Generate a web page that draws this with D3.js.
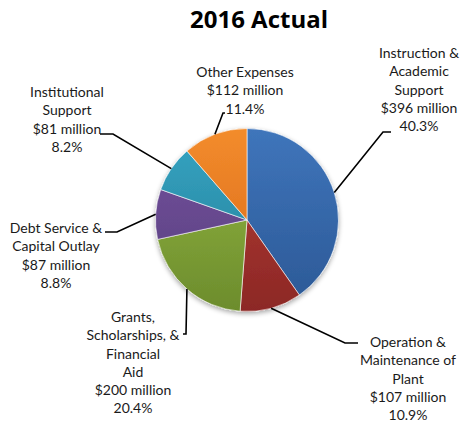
<!DOCTYPE html>
<html>
<head>
<meta charset="utf-8">
<script src="https://cdn.jsdelivr.net/npm/d3@7.9.0/dist/d3.min.js"></script>
<style>
  html, body { margin: 0; padding: 0; background: #fff; }
  svg { display: block; }
  .lbl { font-family: Lato, "Open Sans", sans-serif; font-size: 14px; fill: #1a1a1a; }
  .title { font-family: "Open Sans", Lato, sans-serif; font-weight: 700; font-size: 24px; fill: #000; }
</style>
</head>
<body>
<svg id="chart" width="461" height="423"></svg>
<script>
// ---- data ----
const categories = [
  ['Instruction &', 'Academic', 'Support'],
  ['Operation &', 'Maintenance of', 'Plant'],
  ['Grants,', 'Scholarships, &', 'Financial', 'Aid'],
  ['Debt Service &', 'Capital Outlay'],
  ['Institutional', 'Support'],
  ['Other Expenses']
];
const amounts = ['$396 million', '$107 million', '$200 million', '$87 million', '$81 million', '$112 million'];
const percents = [40.3, 10.9, 20.4, 8.8, 8.2, 11.4];
const colorsTop = ['#3f75bb', '#b63c37', '#95b844', '#75559f', '#36a5c3', '#f38c2c'];
const colorsBottom = ['#2b5895', '#8c2825', '#6c8c2c', '#573b7d', '#227c96', '#d66618'];

// ---- layout (label anchors and leader elbows) ----
const cx = 247, cy = 220, radius = 91.5;
const labelLayout = [
  { x: 419, y: 53, elbow: [383, 132], end: [391, 132] },
  { x: 408, y: 342, elbow: [345, 343], end: [358, 343] },
  { x: 133, y: 317, elbow: [186, 334], end: [183, 334] },
  { x: 56, y: 228, elbow: [117, 232], end: [105, 232] },
  { x: 67, y: 92, elbow: [113, 134], end: [100, 134] },
  { x: 245, y: 72, elbow: [223, 113], end: [225, 113] }
];
const lineStep = 18.3;

const svg = d3.select('#chart');
const defs = svg.append('defs');

// soft shadow under the pie
const shadow = defs.append('filter').attr('id', 'shadow')
  .attr('x', '-20%').attr('y', '-20%').attr('width', '140%').attr('height', '140%');
shadow.append('feGaussianBlur').attr('in', 'SourceAlpha').attr('stdDeviation', 2.5);
shadow.append('feOffset').attr('dx', 0).attr('dy', 2).attr('result', 'off');
shadow.append('feComponentTransfer').append('feFuncA').attr('type', 'linear').attr('slope', 0.35);
const merge = shadow.append('feMerge');
merge.append('feMergeNode');
merge.append('feMergeNode').attr('in', 'SourceGraphic');

// vertical gradient for each slice
percents.forEach((_p, i) => {
  const g = defs.append('linearGradient').attr('id', 'grad' + i)
    .attr('gradientUnits', 'userSpaceOnUse')
    .attr('x1', 0).attr('y1', -radius).attr('x2', 0).attr('y2', radius);
  g.append('stop').attr('offset', '0%').attr('stop-color', colorsTop[i]);
  g.append('stop').attr('offset', '100%').attr('stop-color', colorsBottom[i]);
});

// title
svg.append('text').attr('class', 'title')
  .attr('x', 259).attr('y', 28).attr('text-anchor', 'middle')
  .text('2016 Actual');

// pie
const pie = d3.pie().sort(null).value(d => d);
const arcData = pie(percents);
const arc = d3.arc().innerRadius(0).outerRadius(radius);

const pieG = svg.append('g')
  .attr('transform', `translate(${cx},${cy})`)
  .attr('filter', 'url(#shadow)');

pieG.selectAll('path')
  .data(arcData)
  .enter()
  .append('path')
  .attr('d', arc)
  .attr('fill', (_d, i) => `url(#grad${i})`)
  .attr('stroke', '#fff')
  .attr('stroke-width', 0.6);

// leader lines: start at the slice's outer edge, at its middle angle
const edge = d => {
  const a = (d.startAngle + d.endAngle) / 2;
  return [cx + radius * Math.sin(a), cy - radius * Math.cos(a)];
};

svg.append('g').selectAll('path')
  .data(arcData)
  .enter()
  .append('path')
  .attr('d', (d, i) => d3.line()([edge(d), labelLayout[i].elbow, labelLayout[i].end]))
  .attr('fill', 'none')
  .attr('stroke', '#000')
  .attr('stroke-width', 1.6);

// labels
const labels = svg.append('g').selectAll('text')
  .data(arcData)
  .enter()
  .append('text')
  .attr('class', 'lbl')
  .attr('text-anchor', 'middle')
  .attr('x', (_d, i) => labelLayout[i].x)
  .attr('y', (_d, i) => labelLayout[i].y);

labels.each(function (_d, i) {
  const lines = [...categories[i], amounts[i], percents[i].toFixed(1) + '%'];
  d3.select(this).selectAll('tspan')
    .data(lines)
    .enter()
    .append('tspan')
    .attr('x', labelLayout[i].x)
    .attr('y', (_l, k) => labelLayout[i].y + k * lineStep)
    .attr('dy', '0.35em')
    .text(l => l);
});
</script>
</body>
</html>
